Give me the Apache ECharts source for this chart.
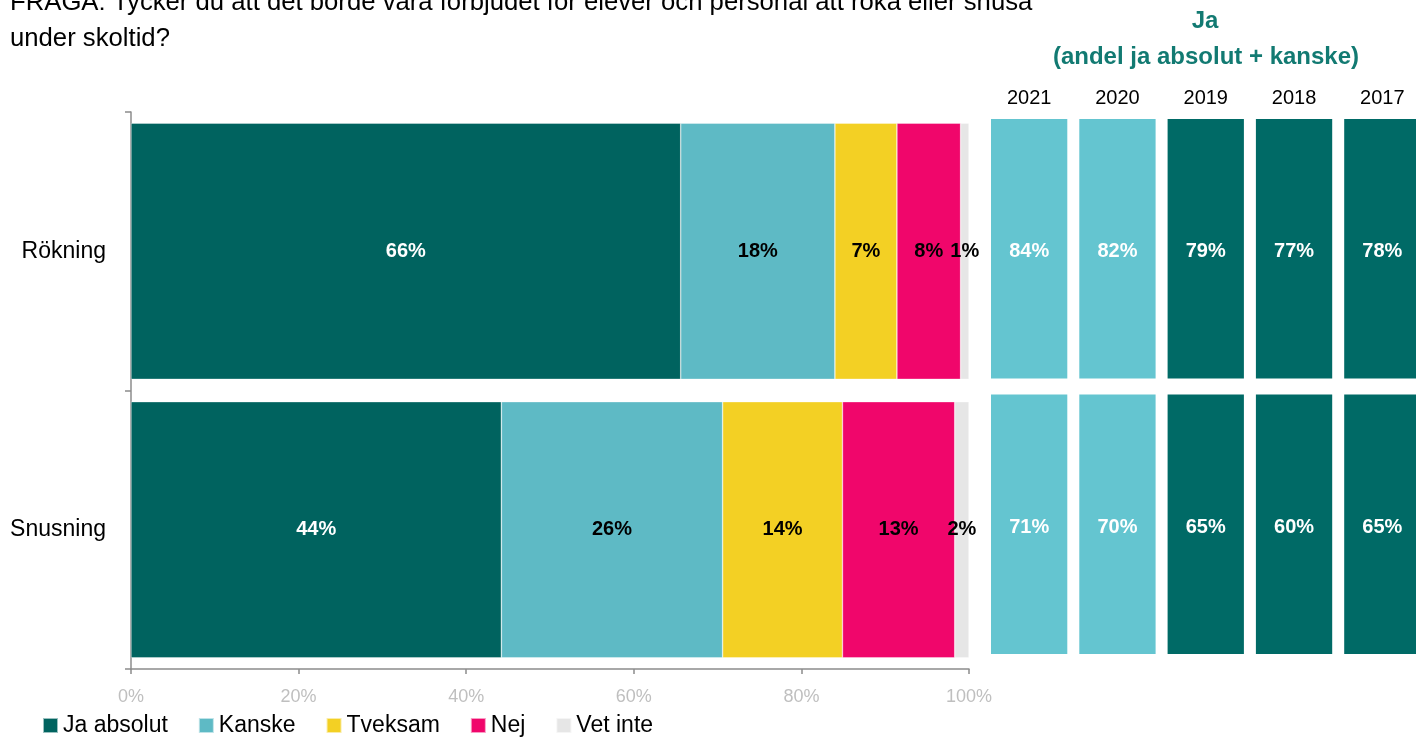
<!DOCTYPE html>
<html>
<head>
<meta charset="utf-8">
<script src="https://cdn.jsdelivr.net/npm/echarts@6/dist/echarts.min.js"></script>
<style>
  html, body { margin: 0; padding: 0; background: #fff; }
  #chart { width: 1416px; height: 737px; }
</style>
</head>
<body>
<div id="chart"></div>
<script>
// Survey question, answer categories and shares (percent)
const categories = ['Rökning', 'Snusning'];
const answers = ['Ja absolut', 'Kanske', 'Tveksam', 'Nej', 'Vet inte'];
const jaAbsolut = [65.6, 44.2];
const kanske = [18.4, 26.4];
const tveksam = [7.4, 14.3];
const nej = [7.6, 13.4];
const vetInte = [1.0, 1.7];

// Share answering "ja" (ja absolut + kanske) per survey year
const years = ['2021', '2020', '2019', '2018', '2017'];
const jaRokning = [84, 82, 79, 77, 78];
const jaSnusning = [71, 70, 65, 60, 65];

const FONT = "'Liberation Sans', Arial, sans-serif";
const answerColors = ['#00635F', '#5EBAC5', '#F3D024', '#F0066B', '#E6E6E6'];
const labelColors = ['#FFFFFF', '#000000', '#000000', '#000000', '#000000'];
const seriesValues = [jaAbsolut, kanske, tveksam, nej, vetInte];

const chart = echarts.init(document.getElementById('chart'), null, { renderer: 'canvas' });

const barSeries = answers.map((name, i) => ({
  name: name,
  type: 'bar',
  stack: 'svar',
  xAxisIndex: 0,
  yAxisIndex: 0,
  barCategoryGap: '8%',
  data: seriesValues[i],
  itemStyle: { color: answerColors[i], borderColor: 'rgba(255,255,255,0.6)', borderWidth: 0.6 },
  label: {
    show: true,
    position: 'inside',
    formatter: p => Math.round(p.value) + '%',
    color: labelColors[i],
    fontFamily: FONT,
    fontWeight: 'bold',
    fontSize: 20
  },
  emphasis: { disabled: true }
}));

// Year tiles: one cell per (year, category)
const tileData = [];
years.forEach((y, xi) => {
  tileData.push([xi, 0, jaRokning[xi]]);
  tileData.push([xi, 1, jaSnusning[xi]]);
});

const tileSeries = {
  type: 'custom',
  xAxisIndex: 1,
  yAxisIndex: 1,
  data: tileData,
  renderItem: function (params, api) {
    const xi = api.value(0);
    const yi = api.value(1);
    const v = api.value(2);
    const c = api.coord([xi, yi]);
    const s = api.size([1, 1]);
    const gx = 6, gy = 8;
    const fill = xi < 2 ? '#64C5D0' : '#006A66';
    return {
      type: 'group',
      children: [
        {
          type: 'rect',
          shape: { x: c[0] - s[0] / 2 + gx, y: c[1] - s[1] / 2 + gy, width: s[0] - 2 * gx, height: s[1] - 2 * gy },
          style: { fill: fill }
        },
        {
          type: 'text',
          x: c[0],
          y: c[1] + 3,
          style: {
            text: v + '%',
            fill: '#FFFFFF',
            font: 'bold 20px ' + FONT,
            align: 'center',
            verticalAlign: 'middle'
          }
        }
      ]
    };
  }
};

const option = {
  animation: false,
  backgroundColor: '#FFFFFF',
  textStyle: { fontFamily: FONT },
  graphic: [
    {
      type: 'text', left: 10, top: -15,
      style: {
        text: 'FRÅGA: Tycker du att det borde vara förbjudet för elever och personal att röka eller snusa\nunder skoltid?',
        font: '25.7px ' + FONT, fill: '#000000', lineHeight: 36
      }
    },
    {
      type: 'text', x: 1205, y: 21,
      style: { text: 'Ja', font: 'bold 24px ' + FONT, fill: '#127A72', align: 'center', verticalAlign: 'middle' }
    },
    {
      type: 'text', x: 1206, y: 57,
      style: { text: '(andel ja absolut + kanske)', font: 'bold 24px ' + FONT, fill: '#127A72', align: 'center', verticalAlign: 'middle' }
    }
  ],
  legend: {
    data: answers,
    left: 42,
    top: 714,
    orient: 'horizontal',
    icon: 'rect',
    itemWidth: 15,
    itemHeight: 15,
    itemGap: 30,
    padding: 0,
    textStyle: { fontFamily: FONT, fontSize: 23, color: '#000000', padding: [0, 0, 0, 0] },
    selectedMode: false
  },
  grid: [
    { left: 131, top: 112, width: 838, height: 557, outerBoundsMode: 'none' },
    { left: 985, top: 111, width: 441.5, height: 551, outerBoundsMode: 'none' }
  ],
  xAxis: [
    {
      type: 'value',
      gridIndex: 0,
      min: 0,
      max: 100,
      interval: 20,
      axisLine: { show: true, lineStyle: { color: '#8C8C8C', width: 1.5 } },
      axisTick: { show: true, length: 5, lineStyle: { color: '#8C8C8C', width: 1.5 } },
      splitLine: { show: false },
      axisLabel: { formatter: '{value}%', color: '#BFBFBF', fontSize: 18, fontFamily: FONT, margin: 19 }
    },
    {
      type: 'category',
      gridIndex: 1,
      data: years,
      position: 'top',
      axisLine: { show: false },
      axisTick: { show: false },
      axisLabel: { color: '#000000', fontSize: 20, fontFamily: FONT, margin: 3 }
    }
  ],
  yAxis: [
    {
      type: 'category',
      gridIndex: 0,
      data: categories,
      inverse: true,
      axisLine: { show: true, lineStyle: { color: '#8C8C8C', width: 1.5 } },
      axisTick: { show: true, length: 6, lineStyle: { color: '#8C8C8C', width: 1.5 } },
      axisLabel: { color: '#000000', fontSize: 23, fontFamily: FONT, margin: 25 }
    },
    {
      type: 'category',
      gridIndex: 1,
      data: categories,
      inverse: true,
      show: false
    }
  ],
  series: barSeries.concat([tileSeries])
};

chart.setOption(option);
</script>
</body>
</html>
